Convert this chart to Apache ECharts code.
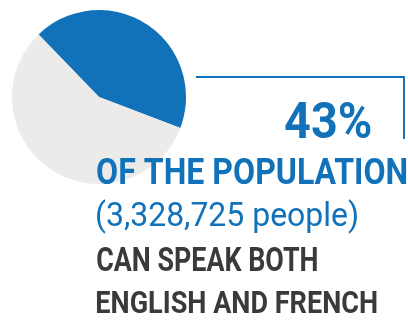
<!DOCTYPE html>
<html>
<head>
<meta charset="utf-8">
<script src="https://cdn.jsdelivr.net/npm/echarts@6/dist/echarts.min.js"></script>
<style>
html,body{margin:0;padding:0;background:#fff;}
#c{width:408px;height:331px;}
</style>
</head>
<body>
<div id="c"></div>
<script>
var categories = ['English and French', 'Other'];
var values = [43, 57];
var headline = '43%';
var line1 = 'OF THE POPULATION';
var line2 = '(3,328,725 people)';
var line3 = 'CAN SPEAK BOTH';
var line4 = 'ENGLISH AND FRENCH';

var BLUE = '#1172BA';
var GREY = '#ECEBE9';
var DARK = '#3A3A3A';
var FAMILY = 'Roboto, "Noto Sans", sans-serif';

var mctx = document.createElement('canvas').getContext('2d');
// fit text ink box: left/right horizontal ink extents, top/bottom of cap height
function makeText(text, capRef, weight, size, color, left, right, top, bottom) {
  var font = weight + ' ' + size + 'px ' + FAMILY;
  mctx.font = font;
  mctx.textBaseline = 'middle';
  var m = mctx.measureText(text);
  var c = mctx.measureText(capRef);
  var ink = m.actualBoundingBoxLeft + m.actualBoundingBoxRight;
  var sx = (right - left) / ink;
  var capH = c.actualBoundingBoxAscent + c.actualBoundingBoxDescent;
  var sy = (bottom - top) / capH;
  var cy = (top + bottom) / 2;
  var y0 = cy - sy * (c.actualBoundingBoxDescent - c.actualBoundingBoxAscent) / 2;
  return {
    type: 'text', z: 100,
    x: left + m.actualBoundingBoxLeft * sx, y: y0,
    scaleX: sx, scaleY: sy,
    style: {text: text, font: font, fill: color, textAlign: 'left', textVerticalAlign: 'middle'}
  };
}

var chart = echarts.init(document.getElementById('c'), null, {renderer: 'canvas'});
chart.setOption({
  animation: false,
  backgroundColor: '#fff',
  series: [{
    type: 'pie',
    z: 1,
    center: [99, 97],
    radius: [0, 87],
    startAngle: 134,
    clockwise: true,
    label: {show: false},
    labelLine: {show: false},
    silent: true,
    itemStyle: {borderWidth: 0},
    data: categories.map(function (c, i) {
      return {name: c, value: values[i], itemStyle: {color: i === 0 ? BLUE : GREY}};
    })
  }],
  graphic: [
    {type: 'polyline', z: 100, shape: {points: [[196, 77], [404, 77], [404, 139]]},
     style: {stroke: BLUE, lineWidth: 2, fill: null}},
    makeText(headline, '43', 'bold', 52, BLUE, 285, 371, 102, 139),
    makeText(line1, 'H', 'bold', 36, BLUE, 97, 407, 158, 184),
    makeText(line2, '3', 'normal', 32, BLUE, 97, 357, 203, 226),
    makeText(line3, 'H', 'bold', 34, DARK, 97, 317, 247, 271),
    makeText(line4, 'H', 'bold', 33, DARK, 97, 377, 290, 313)
  ]
});
</script>
</body>
</html>
